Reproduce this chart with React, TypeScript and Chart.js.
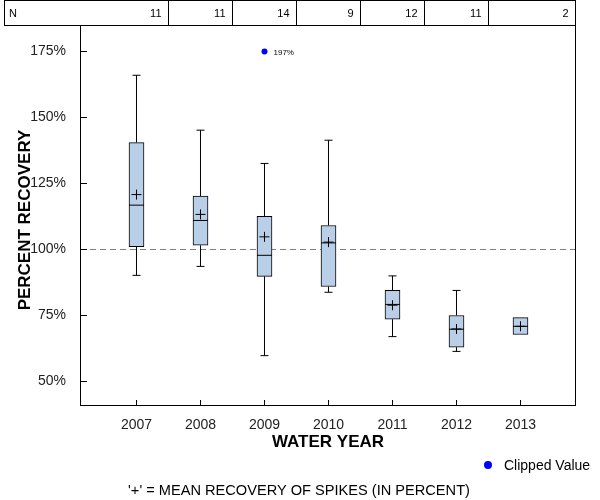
import React, { useEffect, useRef } from "react";
import { Chart, registerables } from "chart.js";

Chart.register(...registerables);

// ---- data ----
const years = [2007, 2008, 2009, 2010, 2011, 2012, 2013];
const nCounts = [11, 11, 14, 9, 12, 11, 2];
const whiskerLow: (number | null)[] = [90.2, 93.6, 59.8, 83.8, 67.0, 61.4, null];
const q1 = [101.1, 101.6, 89.8, 86.0, 73.6, 63.0, 67.8];
const medians = [116.8, 111.0, 97.8, 102.5, 79.2, 69.8, 70.9];
const q3 = [140.5, 120.2, 112.6, 109.1, 84.5, 75.0, 74.2];
const whiskerHigh: (number | null)[] = [166.0, 145.2, 132.6, 141.4, 90.0, 84.5, null];
const means = [120.8, 113.3, 104.8, 102.8, 78.9, 69.9, 70.9];
const clippedYears = [2009];
const clippedValues = [197];
const clipLevel = 175;
const yTicks = [50, 75, 100, 125, 150, 175];
const referenceLevel = 100;

const FONT = "'Liberation Sans', Arial, sans-serif";

export default function App() {
  const ref = useRef<HTMLCanvasElement>(null);

  useEffect(() => {
    const canvas = ref.current!;
    const X_MIN = 2006.1172;
    const X_MAX = 2013.8516;
    const Y_MIN = 40.72;
    const Y_MAX = 185.04;

    const whiskerData: any[] = [];
    const capData: any[] = [];
    years.forEach((yr, i) => {
      const lo = whiskerLow[i];
      const hi = whiskerHigh[i];
      if (lo != null) {
        whiskerData.push({ x: yr, y: lo }, { x: yr, y: q1[i] }, { x: yr, y: null });
        capData.push({ x: yr, y: lo });
      }
      if (hi != null) {
        whiskerData.push({ x: yr, y: q3[i] }, { x: yr, y: hi }, { x: yr, y: null });
        capData.push({ x: yr, y: hi });
      }
    });

    const overlay = {
      id: "overlay",
      afterDraw(chart: any) {
        const ctx = chart.ctx as CanvasRenderingContext2D;
        const xs = chart.scales.x;
        const ys = chart.scales.y;
        const ca = chart.chartArea;
        const L = Math.floor(ca.left) + 0.5;
        const R = Math.floor(ca.right) + 0.5;
        const T = Math.floor(ca.top) + 0.5;
        const B = Math.floor(ca.bottom) - 0.5;
        ctx.save();
        ctx.strokeStyle = "#000";
        ctx.lineWidth = 1;
        // frame
        ctx.strokeRect(L, T, R - L, B - T);
        // inward ticks
        ctx.beginPath();
        yTicks.forEach((v) => {
          const py = Math.floor(ys.getPixelForValue(v)) + 0.5;
          ctx.moveTo(L, py);
          ctx.lineTo(L + 6.5, py);
        });
        years.forEach((yr) => {
          const px = Math.floor(xs.getPixelForValue(yr)) + 0.5;
          ctx.moveTo(px, B);
          ctx.lineTo(px, B - 5.5);
        });
        ctx.stroke();

        // N table
        const tTop = 0.5;
        const tBot = T;
        const tLeft = 4.5;
        ctx.strokeRect(tLeft, tTop, R - tLeft, tBot - tTop);
        const bounds: number[] = [];
        for (let i = 0; i < years.length - 1; i++) {
          bounds.push(Math.floor(xs.getPixelForValue((years[i] + years[i + 1]) / 2)) + 0.5);
        }
        bounds.push(R);
        ctx.beginPath();
        bounds.slice(0, -1).forEach((b) => {
          ctx.moveTo(b, tTop);
          ctx.lineTo(b, tBot);
        });
        ctx.stroke();
        ctx.fillStyle = "#000";
        ctx.font = `11px ${FONT}`;
        ctx.textBaseline = "middle";
        ctx.textAlign = "left";
        ctx.fillText("N", 9, 14);
        ctx.textAlign = "right";
        nCounts.forEach((n, i) => {
          ctx.fillText(String(n), bounds[i] - 7, 14);
        });

        // clipped label
        const clipMeta = chart.getDatasetMeta(6);
        clipMeta.data.forEach((el: any, i: number) => {
          ctx.font = `8px ${FONT}`;
          ctx.textAlign = "left";
          ctx.textBaseline = "middle";
          ctx.fillStyle = "#000";
          ctx.fillText(`${clippedValues[i]}%`, el.x + 9, el.y + 1);
        });

        // axis titles
        ctx.font = `bold 17px ${FONT}`;
        ctx.textAlign = "center";
        ctx.textBaseline = "middle";
        ctx.fillText("WATER YEAR", 328, 442);
        ctx.save();
        ctx.translate(25, 220);
        ctx.rotate(-Math.PI / 2);
        ctx.fillText("PERCENT RECOVERY", 0, 0);
        ctx.restore();

        // legend
        ctx.fillStyle = "#0000ff";
        ctx.beginPath();
        ctx.arc(488, 465, 4, 0, Math.PI * 2);
        ctx.fill();
        ctx.fillStyle = "#000";
        ctx.font = `14px ${FONT}`;
        ctx.textAlign = "left";
        ctx.fillText("Clipped Value", 504, 466);

        // footer
        ctx.font = `14.6px ${FONT}`;
        ctx.textAlign = "center";
        ctx.fillText("'+' = MEAN RECOVERY OF SPIKES (IN PERCENT)", 299, 491);
        ctx.restore();
      },
    };

    const chart = new Chart(canvas, {
      type: "bar",
      data: {
        datasets: [
          {
            type: "line",
            data: [
              { x: X_MIN, y: referenceLevel },
              { x: X_MAX, y: referenceLevel },
            ],
            borderColor: "#808080",
            borderWidth: 1,
            borderDash: [6, 4],
            pointRadius: 0,
            order: 10,
          } as any,
          {
            type: "line",
            data: whiskerData,
            borderColor: "#000",
            borderWidth: 1,
            pointRadius: 0,
            spanGaps: false,
            order: 6,
          } as any,
          {
            type: "scatter",
            data: capData,
            pointStyle: "line",
            pointRadius: 4,
            borderColor: "#000",
            borderWidth: 1,
            order: 6,
          } as any,
          {
            type: "bar",
            data: years.map((yr, i) => ({ x: yr, y: [q1[i], q3[i]] })),
            backgroundColor: "#b9cfe7",
            borderColor: "#000",
            borderWidth: 1,
            borderSkipped: false,
            barThickness: 15,
            order: 5,
          } as any,
          {
            type: "scatter",
            data: years.map((yr, i) => ({ x: yr, y: medians[i] })),
            pointStyle: "line",
            pointRadius: 7.5,
            borderColor: "#000",
            borderWidth: 1,
            order: 2,
          } as any,
          {
            type: "scatter",
            data: years.map((yr, i) => ({ x: yr, y: means[i] })),
            pointStyle: "cross",
            pointRadius: 5,
            borderColor: "#000",
            borderWidth: 1,
            order: 1,
          } as any,
          {
            type: "scatter",
            data: clippedYears.map((yr) => ({ x: yr, y: clipLevel })),
            pointStyle: "circle",
            pointRadius: 3,
            backgroundColor: "#0000ff",
            borderColor: "#0000ff",
            borderWidth: 0,
            order: 1,
          } as any,
        ],
      },
      options: {
        responsive: false,
        animation: false,
        layout: { padding: { top: 25, right: 25, left: 0, bottom: 0 } },
        plugins: { legend: { display: false }, tooltip: { enabled: false } },
        scales: {
          x: {
            type: "linear",
            min: X_MIN,
            max: X_MAX,
            offset: false,
            grid: { display: false },
            border: { display: false },
            ticks: {
              font: { family: FONT, size: 14 },
              color: "#222",
              padding: 3,
              autoSkip: false,
              maxRotation: 0,
              callback: (v: any) => String(v),
            },
            afterBuildTicks: (s: any) => {
              s.ticks = years.map((v) => ({ value: v }));
            },
            afterFit: (s: any) => {
              s.height = 94;
            },
          },
          y: {
            type: "linear",
            min: Y_MIN,
            max: Y_MAX,
            grid: { display: false },
            border: { display: false },
            ticks: {
              font: { family: FONT, size: 14 },
              color: "#222",
              padding: 6,
              callback: (v: any) => `${v}%`,
            },
            afterBuildTicks: (s: any) => {
              s.ticks = yTicks.map((v) => ({ value: v }));
            },
            afterFit: (s: any) => {
              s.width = 80;
            },
          },
        },
      } as any,
      plugins: [overlay],
    });

    return () => chart.destroy();
  }, []);

  return (
    <div style={{ position: "fixed", left: 0, top: 0, width: 600, height: 500, background: "#fff" }}>
      <canvas ref={ref} width={600} height={500} style={{ display: "block" }} />
    </div>
  );
}
